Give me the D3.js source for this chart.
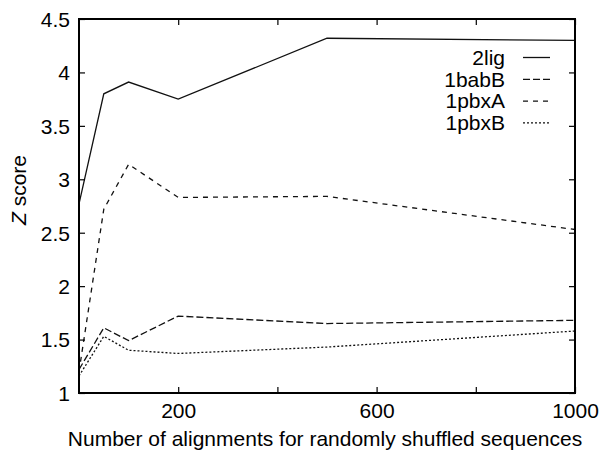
<!DOCTYPE html>
<html><head><meta charset="utf-8">
<script src="https://cdn.jsdelivr.net/npm/d3@7"></script>
<style>body{margin:0;background:#fff}text{font-family:"Liberation Sans",Arial,sans-serif;fill:#000}</style>
</head><body>
<svg id="c" width="601" height="452"></svg>
<script>
const xValues = [0, 50, 100, 200, 500, 1000];
const s2lig  = [2.77, 3.80, 3.91, 3.75, 4.32, 4.30];
const s1babB = [1.22, 1.61, 1.49, 1.72, 1.65, 1.68];
const s1pbxA = [1.20, 2.72, 3.14, 2.83, 2.84, 2.53];
const s1pbxB = [1.16, 1.53, 1.40, 1.37, 1.43, 1.58];
const seriesNames = ["2lig", "1babB", "1pbxA", "1pbxB"];
const xTicks = [200, 400, 600, 800, 1000];
const xTickLabels = ["200", "", "600", "", "1000"];
const yTicks = [1, 1.5, 2, 2.5, 3, 3.5, 4, 4.5];
const yTickLabels = ["1", "1.5", "2", "2.5", "3", "3.5", "4", "4.5"];

const series = [s2lig, s1babB, s1pbxA, s1pbxB];
const dashes = [null, "7,3", "5,5", "2,2"];
const FS = 21;

const L = 79, R = 575, T = 19, B = 393;
const svg = d3.select("#c");
const x = d3.scaleLinear().domain([0, 1000]).range([L, R]);
const y = d3.scaleLinear().domain([1, 4.5]).range([B, T]);

// lines
const line = d3.line().x((d, i) => x(xValues[i])).y(d => y(d));
series.forEach((s, k) => {
  svg.append("path").datum(s).attr("d", line)
    .attr("fill", "none").attr("stroke", "#111").attr("stroke-width", 1.3)
    .attr("stroke-dasharray", dashes[k]);
});

// axes with inward ticks
const fmtX = d => xTickLabels[xTicks.indexOf(d)];
const fmtY = d => yTickLabels[yTicks.indexOf(d)];
const ax = svg.append("g").attr("transform", `translate(0,${B})`)
  .call(d3.axisBottom(x).tickValues(xTicks).tickFormat(fmtX).tickSizeInner(-6).tickSizeOuter(0).tickPadding(10));
const ay = svg.append("g").attr("transform", `translate(${L},0)`)
  .call(d3.axisLeft(y).tickValues(yTicks).tickFormat(fmtY).tickSizeInner(-6).tickSizeOuter(0).tickPadding(9));
const axT = svg.append("g").attr("transform", `translate(0,${T})`)
  .call(d3.axisTop(x).tickValues(xTicks).tickFormat("").tickSizeInner(-6).tickSizeOuter(0));
const ayR = svg.append("g").attr("transform", `translate(${R},0)`)
  .call(d3.axisRight(y).tickValues(yTicks).tickFormat("").tickSizeInner(-6).tickSizeOuter(0));
[ax, ay, axT, ayR].forEach(g => {
  g.select(".domain").remove();
  g.selectAll(".tick line").attr("stroke", "#000").attr("stroke-width", 1.2);
  g.selectAll(".tick text").attr("font-size", FS).attr("font-family", '"Liberation Sans",Arial,sans-serif');
});
ay.selectAll(".tick text").attr("dy", "0.35em");
// frame
svg.append("rect").attr("x", L).attr("y", T).attr("width", R - L).attr("height", B - T)
  .attr("fill", "none").attr("stroke", "#000").attr("stroke-width", 2);

// axis labels
svg.append("text").attr("x", 325).attr("y", 446).attr("text-anchor", "middle")
  .attr("font-size", FS).text("Number of alignments for randomly shuffled sequences");
const yl = svg.append("text").attr("transform", "translate(26,190) rotate(-90)")
  .attr("text-anchor", "middle").attr("font-size", FS);
yl.append("tspan").attr("font-style", "italic").text("Z");
yl.append("tspan").text(" score");

// legend
seriesNames.forEach((n, k) => {
  const ly = 57.5 + k * 21.8;
  svg.append("text").attr("x", 505).attr("y", ly).attr("dy", "0.35em")
    .attr("text-anchor", "end").attr("font-size", FS).text(n);
  svg.append("line").attr("x1", 523).attr("x2", 550).attr("y1", ly).attr("y2", ly)
    .attr("stroke", "#111").attr("stroke-width", 1.3).attr("stroke-dasharray", dashes[k]);
});
</script>
</body></html>
